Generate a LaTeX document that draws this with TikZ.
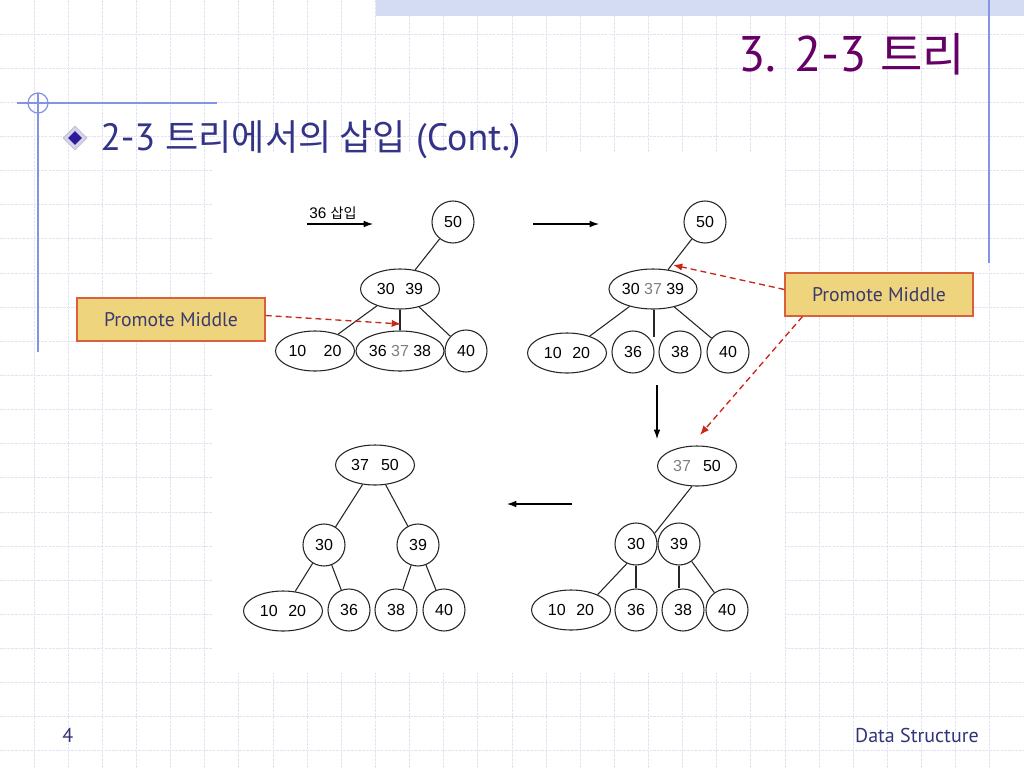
\documentclass[tikz,border=0pt]{standalone}
\usepackage{fontspec}
\setmainfont{PT Sans}
\newfontfamily\kr[Scale=0.92]{Noto Sans CJK KR}
\newfontfamily\krs[Scale=0.95]{Noto Sans CJK KR}
\newfontfamily\arial{Liberation Sans}
\usetikzlibrary{shapes.geometric,arrows.meta,calc}
\definecolor{gridc}{HTML}{E2E2F3}
\definecolor{bandc}{HTML}{D3DCF3}
\definecolor{decoc}{HTML}{8494E4}
\definecolor{titlec}{HTML}{660066}
\definecolor{subc}{HTML}{333388}
\definecolor{footc}{HTML}{333377}
\definecolor{boxfill}{HTML}{EFD47E}
\definecolor{boxborder}{HTML}{D9603B}
\definecolor{promotext}{HTML}{3A3A6E}
\definecolor{arrowred}{HTML}{C8281A}
\definecolor{keygray}{HTML}{808080}
\definecolor{bulout}{HTML}{D6D2EC}
\definecolor{bulin}{HTML}{2B1B9A}
\tikzset{
  tn/.style={draw=black!85, line width=0.8pt, inner sep=0pt, font=\arial\fontsize{12}{14}\selectfont},
  cn/.style={tn, circle, minimum size=31.5pt},
  en/.style={tn, ellipse, minimum width=59.25pt, minimum height=30pt},
  tedge/.style={draw=black!85, line width=0.8pt},
  harrow/.style={draw=black, line width=0.8pt, -{Latex[length=7pt,width=5pt]}},
  redarrow/.style={draw=arrowred, line width=1pt, dash pattern=on 4.5pt off 3pt, -{Latex[length=7pt,width=5.5pt]}},
  promo/.style={draw=boxborder, fill=boxfill, line width=0.9pt, minimum width=141pt, minimum height=32.25pt, inner sep=0pt, font=\fontsize{14.8}{16}\selectfont, text=promotext},
  gridline/.style={draw=gridc, line width=0.75pt, dash pattern=on 2pt off 0.8pt},
  decoline/.style={draw=decoc, line width=0.9pt},
}
\begin{document}
\begin{tikzpicture}[x=0.75pt,y=-0.75pt]
\useasboundingbox (0,0) rectangle (1024,768);
\fill[white] (0,0) rectangle (1024,768);
% background grid
\foreach \k in {1,...,29} \draw[gridline] ({\k*34.1333},0) -- ({\k*34.1333},768);
\foreach \k in {1,...,22} \draw[gridline] (0,{\k*34.1333}) -- (1024,{\k*34.1333});
% white picture area
\fill[white] (213,152) rectangle (785,673);
% decorations
\fill[bandc] (376,0) rectangle (1024,16);
\draw[decoline] (989,0) -- (989,263);
\draw[decoline] (17,103) -- (217,103);
\draw[decoline] (38,93) -- (38,352);
\draw[decoline] (38,103) circle [radius=10];
% title
\node[anchor=base east, font=\fontsize{37.5}{40}\selectfont, text=titlec, inner sep=0pt] (title) at (965,71) {3. 2-3 {\kr 트리}};
% bullet and subtitle
\node[diamond, fill=bulout, draw=bulout!70!black!60, line width=0.5pt, minimum size=18pt, inner sep=0pt] (bulo) at (75,138) {};
\node[diamond, fill=bulin, minimum size=10.5pt, inner sep=0pt] (buli) at (75,138) {};
\node[anchor=base west, font=\fontsize{28.5}{31}\selectfont, text=subc, inner sep=0pt] (sub) at (100,150) {2-3 {\krs 트리에서의 삽입} (Cont.)};
% footer
\node[anchor=base west, font=\fontsize{15}{18}\selectfont, text=footc, inner sep=0pt] (pg) at (62,742) {4};
\node[anchor=base east, font=\fontsize{15}{18}\selectfont, text=footc, inner sep=0pt] (ds) at (979,742) {Data Structure};

% ---------- tree 1 ----------
\node[anchor=base west, font=\arial\fontsize{11.5}{13}\selectfont, inner sep=0pt] (ins) at (309,218) {36 {\kr 삽입}};
\coordinate (i1) at (307,224); \coordinate (i2) at (373,224);
\draw[harrow] (i1) -- (i2);
\node[cn] (a50) at (453,222) {50};
\node[en] (a3039) at (400,289) {30\hspace{8pt}39};
\node[en] (a1020) at (315,351) {10\hspace{13pt}20};
\node[en] (a363738) at (400,351) {36 {\color{keygray}37} 38};
\node[cn] (a40) at (466,351) {40};
\draw[tedge] (a50) -- (a3039);
\draw[tedge] (a3039) -- (a1020);
\draw[tedge] (a3039.south) -- (a363738.north);
\draw[tedge] (a3039) -- (a40);

% ---------- tree 2 ----------
\coordinate (r1) at (533,224); \coordinate (r2) at (599,224);
\draw[harrow] (r1) -- (r2);
\node[cn] (b50) at (705,222) {50};
\node[en] (b303739) at (653,289) {30 {\color{keygray}37} 39};
\node[en] (b1020) at (567,353) {10\hspace{8pt}20};
\node[cn] (b36) at (633,352) {36};
\node[cn] (b38) at (680,352) {38};
\node[cn] (b40) at (728,352) {40};
\coordinate (bmid) at (654,337);
\draw[tedge] (b50) -- (b303739);
\draw[tedge] (b303739) -- (b1020);
\draw[tedge] (b303739.south -| bmid) -- (bmid);
\draw[tedge] (b303739) -- (b40);

% ---------- tree 3 (bottom right) ----------
\coordinate (d1) at (657,385); \coordinate (d2) at (657,439);
\draw[harrow] (d1) -- (d2);
\node[en] (c3750) at (697,466) {{\color{keygray}37}\hspace{9pt}50};
\node[cn] (c30) at (636,544) {30};
\node[cn] (c39) at (679,544) {39};
\node[en] (c1020) at (571,610) {10\hspace{8pt}20};
\node[cn] (c36) at (636,610) {36};
\node[cn] (c38) at (683,610) {38};
\node[cn] (c40) at (727,610) {40};
\draw[tedge] (c3750.-104) -- (c30.30);
\draw[tedge] (c30.-115) -- (c1020.30);
\draw[tedge] (c30.south) -- (c36.north);
\draw[tedge] (c39.south) -- (c39.south |- c38.north);
\draw[tedge] (c39) -- (c40);

% ---------- tree 4 (bottom left) ----------
\coordinate (l1) at (572,504); \coordinate (l2) at (507,504);
\draw[harrow] (l1) -- (l2);
\node[en] (d3750) at (375,465) {37\hspace{9pt}50};
\node[cn] (d30) at (324,545) {30};
\node[cn] (d39) at (418,545) {39};
\node[en] (d1020) at (283,611) {10\hspace{8pt}20};
\node[cn] (d36) at (349,610) {36};
\node[cn] (d38) at (396,610) {38};
\node[cn] (d40) at (444,610) {40};
\draw[tedge] (d3750) -- (d30);
\draw[tedge] (d3750) -- (d39);
\draw[tedge] (d30) -- (d1020);
\draw[tedge] (d30) -- (d36);
\draw[tedge] (d39) -- (d38);
\draw[tedge] (d39) -- (d40);

% ---------- Promote Middle callouts ----------
\node[promo] (pL) at (171,319.5) {Promote Middle};
\node[promo] (pR) at (879,294.5) {Promote Middle};
\coordinate (tL) at (401,324);
\coordinate (tR1) at (673,265);
\coordinate (tR2) at (700,435);
\draw[redarrow] ($(pL.east)+(0,-4)$) -- (tL);
\draw[redarrow] ($(pR.west)+(0,-5)$) -- (tR1);
\draw[redarrow] ($(pR.south west)+(18,0)$) -- (tR2);
\end{tikzpicture}
\end{document}
